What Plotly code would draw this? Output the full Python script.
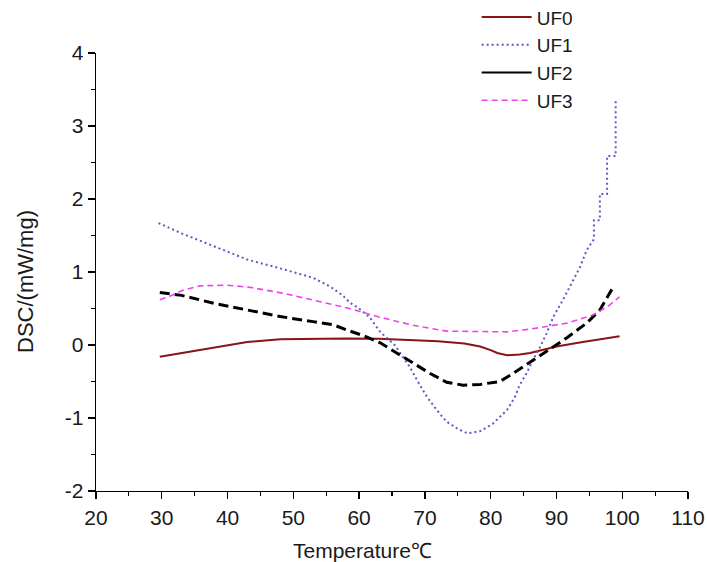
import plotly.graph_objects as go

# ---- data ----
uf0_x = [29.7, 33, 38, 43, 48, 53, 58, 63, 68, 72, 76, 78.4, 80, 81, 82.5, 84.4, 86, 88, 90, 94, 97, 99.6]
uf0_y = [-0.16, -0.11, -0.03, 0.04, 0.08, 0.09, 0.09, 0.085, 0.07, 0.05, 0.02, -0.02, -0.07, -0.11, -0.14, -0.13, -0.11, -0.06, -0.02, 0.04, 0.08, 0.12]

uf1_x = [29.5, 33, 38, 43, 48, 53, 55.6, 57.5, 58.6, 60, 61.6, 63.2, 65.4, 67.7, 68.8, 70.3, 71.8, 73.3, 75, 76.5,
         78.4, 80.3, 82.5, 83.7, 84.4, 85.5, 86.4, 87.5, 88.5, 89.5, 91, 92.5, 93.6, 94.6, 95.7, 95.7, 96.6, 96.6,
         97.7, 97.7, 99.0, 99.0]
uf1_y = [1.67, 1.53, 1.35, 1.17, 1.05, 0.92, 0.8, 0.68, 0.58, 0.5, 0.38, 0.18, 0.0, -0.3, -0.48, -0.71, -0.89, -1.05, -1.15, -1.21,
         -1.18, -1.08, -0.89, -0.71, -0.55, -0.38, -0.21, -0.03, 0.16, 0.38, 0.62, 0.89, 1.07, 1.3, 1.45, 1.71, 1.71, 2.07,
         2.07, 2.59, 2.59, 3.37]

uf2_x = [29.7, 33, 38, 43, 48, 53, 56, 58, 60.6, 63.2, 65.7, 68.2, 70.8, 73.3, 75.8, 78.4, 81.4, 83.4, 84.9, 87.9, 91.6, 94.6, 96.6, 98.8]
uf2_y = [0.72, 0.68, 0.57, 0.48, 0.39, 0.32, 0.28, 0.21, 0.13, 0.03, -0.11, -0.25, -0.39, -0.51, -0.55, -0.54, -0.50, -0.39, -0.30, -0.11, 0.10, 0.30, 0.48, 0.82]

uf3_x = [29.7, 31, 33.2, 35.8, 39.9, 43.4, 48.4, 53.6, 58.1, 63.2, 68.2, 73.3, 78.4, 82.5, 86.2, 91.6, 95.5, 97.7, 99.6]
uf3_y = [0.62, 0.66, 0.75, 0.81, 0.82, 0.79, 0.71, 0.6, 0.51, 0.38, 0.27, 0.19, 0.18, 0.18, 0.22, 0.30, 0.41, 0.52, 0.66]

x_ticks = [20, 30, 40, 50, 60, 70, 80, 90, 100, 110]
y_ticks = [-2, -1, 0, 1, 2, 3, 4]

FONT = "Liberation Sans, Arial, sans-serif"
TXT = "#1a1a1a"

fig = go.Figure()
fig.add_trace(go.Scatter(x=uf0_x, y=uf0_y, mode="lines", name="UF0",
                         line=dict(color="#8B1414", width=2)))
fig.add_trace(go.Scatter(x=uf1_x, y=uf1_y, mode="lines", name="UF1",
                         line=dict(color="#5A5AC8", width=2, dash="2px,3px")))
fig.add_trace(go.Scatter(x=uf2_x, y=uf2_y, mode="lines", name="UF2", showlegend=False,
                         line=dict(color="#000000", width=3, dash="10px,5px")))
# legend entry for UF2 (drawn solid in the reference legend)
fig.add_trace(go.Scatter(x=[None], y=[None], mode="lines", name="UF2",
                         line=dict(color="#000000", width=2)))
fig.add_trace(go.Scatter(x=uf3_x, y=uf3_y, mode="lines", name="UF3",
                         line=dict(color="#EE44EE", width=1.6, dash="6px,4px")))

axis_common = dict(showline=True, linecolor="black", linewidth=1.3, mirror=False,
                   ticks="outside", ticklen=7, tickwidth=1.3, tickcolor="black",
                   showgrid=False, zeroline=False, automargin=False,
                   ticklabeloverflow="allow",
                   tickfont=dict(family=FONT, size=21, color=TXT))

fig.update_xaxes(range=[20, 110], tickvals=x_ticks, ticktext=[str(v) for v in x_ticks],
                 minor=dict(ticks="outside", ticklen=4, dtick=5, tick0=20, tickcolor="black", tickwidth=1.2),
                 **axis_common)
fig.update_yaxes(range=[-2, 4], tickvals=y_ticks, ticktext=[str(v) for v in y_ticks],
                 minor=dict(ticks="outside", ticklen=4, dtick=0.5, tick0=-2, tickcolor="black", tickwidth=1.2),
                 **axis_common)

fig.update_layout(
    width=707, height=562,
    margin=dict(l=96, r=19, t=53, b=71, autoexpand=False),
    paper_bgcolor="white", plot_bgcolor="white",
    font=dict(family=FONT, size=19, color=TXT),
    legend=dict(x=0.643, y=1.125, xanchor="left", yanchor="top",
                bgcolor="rgba(0,0,0,0)", font=dict(family=FONT, size=19, color=TXT),
                tracegroupgap=0, itemwidth=50),
    annotations=[
        dict(text="Temperature℃", xref="paper", yref="paper", x=(362 - 96) / 592, y=(491 - 550) / 438,
             xanchor="center", yanchor="middle", showarrow=False,
             font=dict(family=FONT, size=21, color=TXT)),
        dict(text="DSC/(mW/mg)", xref="paper", yref="paper", x=(25 - 96) / 592, y=(491 - 282) / 438,
             xanchor="center", yanchor="middle", showarrow=False, textangle=-90,
             font=dict(family=FONT, size=22, color=TXT)),
    ],
)

fig.write_html("out.html",
               config={"displayModeBar": False, "staticPlot": True},
               post_script="document.body.style.margin='0';document.body.style.overflow='hidden';"
                           "document.documentElement.style.overflow='hidden';")
